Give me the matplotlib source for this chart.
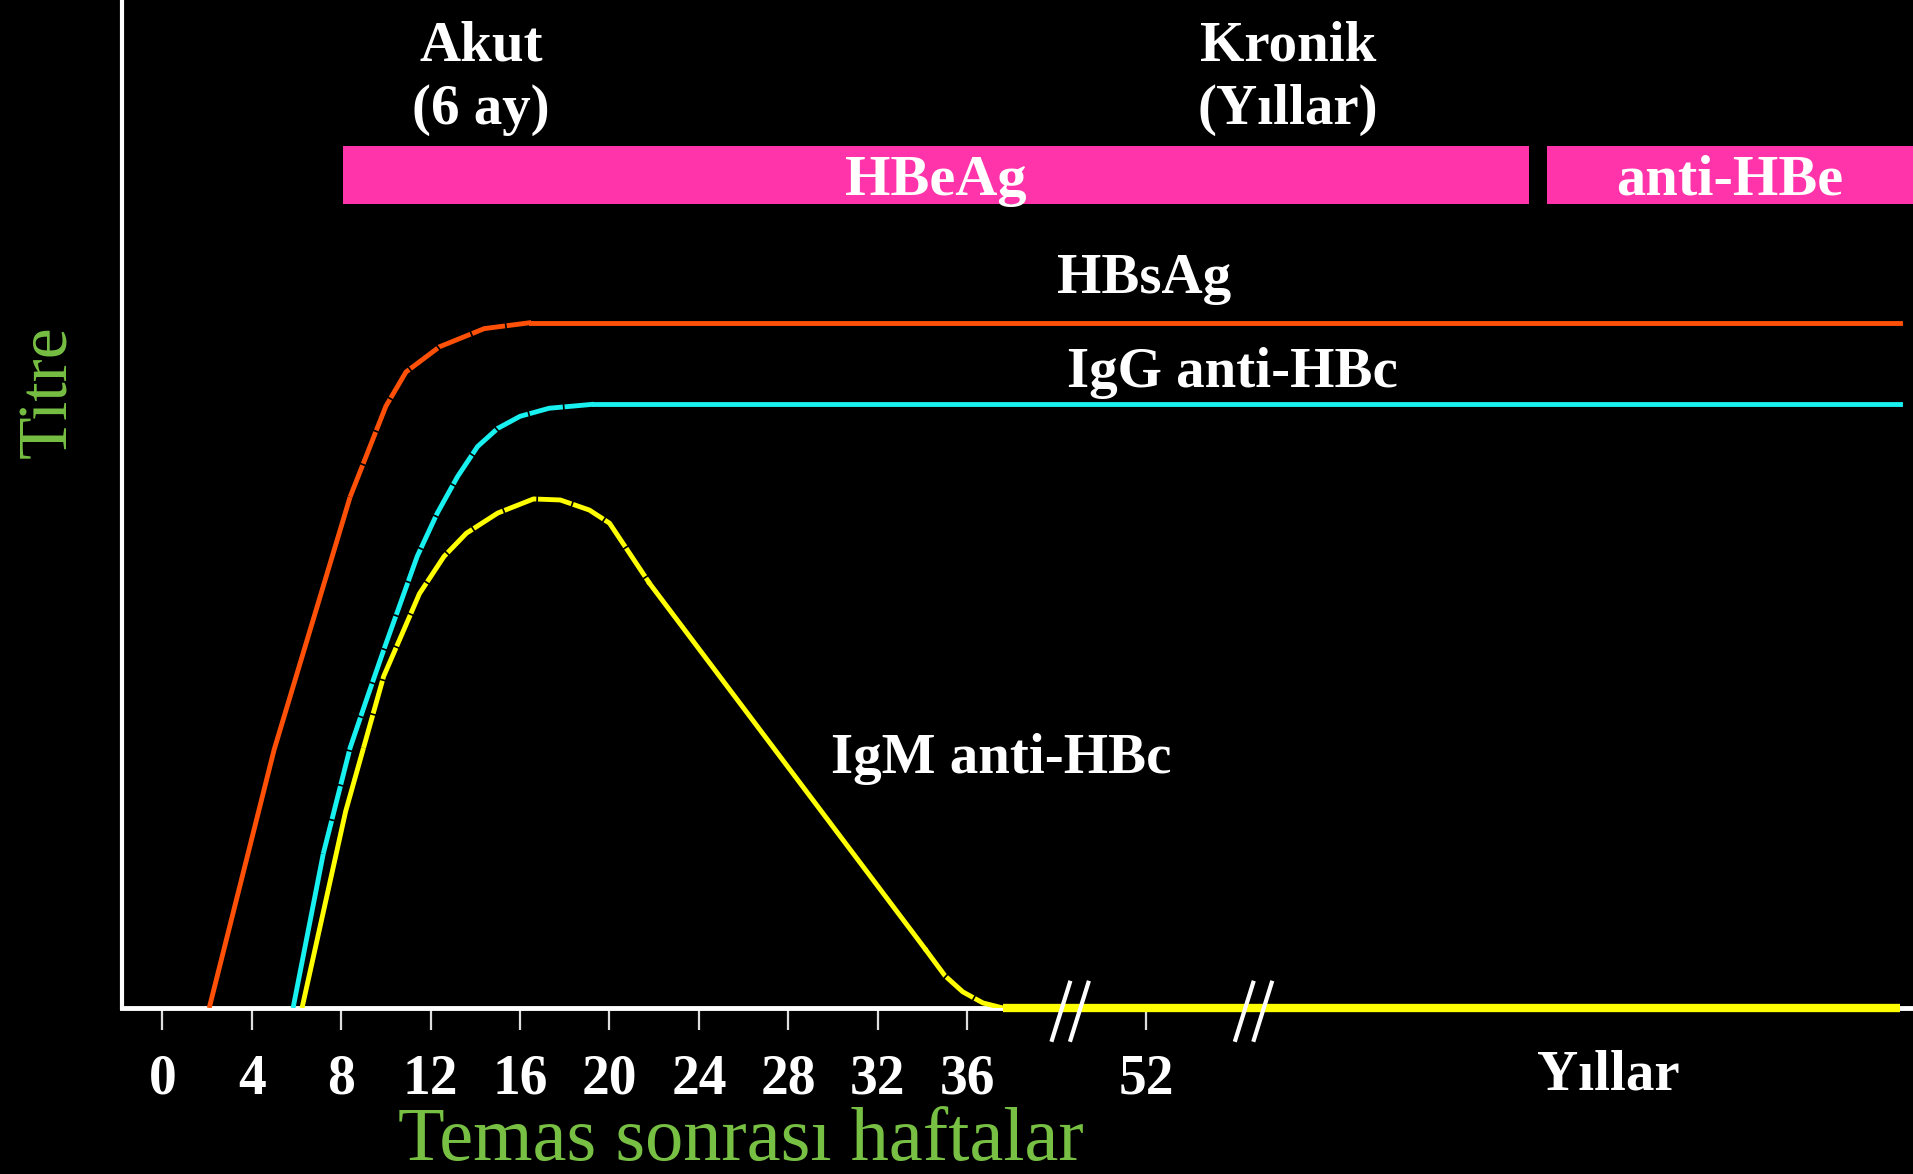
import matplotlib.pyplot as plt

## x axis: weeks after exposure (axis is compressed after 36, broken twice)
week_pos    = [0, 4, 8, 12, 16, 20, 24, 28, 32, 36, 44]
week_labels = ['0', '4', '8', '12', '16', '20', '24', '28', '32', '36', '52']
break_pos   = [40.6, 48.8]
years_pos   = 64.65

## titre curves (relative units, 0 = baseline)
hbsag_x = [2.1, 5.0, 8.4, 10.0, 10.9, 12.4, 14.4, 16.5, 77.7]
hbsag_y = [0, 25.6, 50.7, 59.7, 63.1, 65.6, 67.4, 68.0, 68.0]

igg_x = [5.85, 7.2, 8.4, 9.15, 9.9, 11.4, 12.3, 13.2, 14.1, 15.0, 16.0, 17.3, 19.3, 77.7]
igg_y = [0, 15.3, 25.8, 30.7, 35.5, 44.8, 49.1, 52.7, 55.7, 57.5, 58.7, 59.5, 59.9, 59.9]

igm_x = [6.25, 8.2, 9.0, 9.9, 10.8, 11.5, 12.6, 13.6, 15.0, 16.6, 17.8, 19.1, 20.0, 20.6, 21.8,
         34.1, 35.0, 35.8, 36.7, 37.6, 77.7]
igm_y = [0, 19.5, 25.8, 32.9, 37.5, 41.1, 44.8, 47.1, 49.1, 50.5, 50.4, 49.4, 48.1, 46.1, 42.1,
         5.9, 3.2, 1.6, 0.5, 0, 0]

## serology bars on top
bar_labels = ['HBeAg', 'anti-HBe']
bar_start  = [8.08, 61.92]
bar_end    = [61.1, 80.0]

c_hbs   = '#FF5008'
c_igg   = '#19F0F0'
c_igm   = '#FFFF00'
c_pink  = '#FF33AA'
c_green = '#77C043'
u_font  = 'Liberation Serif'
u_dash  = (0, (7, 0.35))
u_lw    = 3.5

fig = plt.figure(figsize=(19.13, 11.74), dpi=100, facecolor='black')
ax = fig.add_axes([122/1913, 166/1174, 1 - 122/1913, 1008/1174])
ax.set_facecolor('black')
ax.set_xlim(-1.80, 78.29)
ax.set_ylim(0, 100)

for s in ['top', 'right']:
    ax.spines[s].set_visible(False)
ax.spines['left'].set_color('white')
ax.spines['left'].set_linewidth(3)
ax.spines['bottom'].set_color('white')
ax.spines['bottom'].set_linewidth(3.5)

ax.set_yticks([])
ax.set_xticks(week_pos)
ax.set_xticklabels(week_labels, fontfamily=u_font, fontweight='bold', fontsize=40, color='white')
ax.tick_params(axis='x', length=15.8, width=1.6, color='#DDDDDD', pad=17)

## HBsAg : straight rise, rounded shoulder (dashed look), plateau
ax.plot(hbsag_x[:3], hbsag_y[:3], color=c_hbs, lw=u_lw, zorder=3, solid_capstyle='butt')
ax.plot(hbsag_x[2:8], hbsag_y[2:8], color=c_hbs, lw=u_lw, ls=u_dash, zorder=3)
ax.plot(hbsag_x[7:], hbsag_y[7:], color=c_hbs, lw=u_lw, zorder=3)

## IgG anti-HBc
ax.plot(igg_x[:2], igg_y[:2], color=c_igg, lw=u_lw, zorder=3, solid_capstyle='butt')
ax.plot(igg_x[1:13], igg_y[1:13], color=c_igg, lw=u_lw, ls=u_dash, zorder=3)
ax.plot(igg_x[12:], igg_y[12:], color=c_igg, lw=u_lw, zorder=3)

## IgM anti-HBc
ax.plot(igm_x[:3], igm_y[:3], color=c_igm, lw=u_lw, zorder=3, solid_capstyle='butt')
ax.plot(igm_x[2:15], igm_y[2:15], color=c_igm, lw=u_lw, ls=u_dash, zorder=3)
ax.plot(igm_x[14:16], igm_y[14:16], color=c_igm, lw=u_lw, zorder=3)
ax.plot(igm_x[15:20], igm_y[15:20], color=c_igm, lw=u_lw, ls=u_dash, zorder=3)
ax.plot(igm_x[19:], igm_y[19:], color=c_igm, lw=6, zorder=4, clip_on=False, solid_capstyle='butt')

## axis breaks //
for b in break_pos:
    for off in (-0.414, 0.414):
        ax.plot([b + off - 0.425, b + off + 0.425], [-3.35, 2.7], color='white', lw=3,
                zorder=5, clip_on=False, solid_capstyle='butt')

## HBeAg / anti-HBe bars
for lab, x0, x1 in zip(bar_labels, bar_start, bar_end):
    ax.barh(82.65, x1 - x0, left=x0, height=5.75, color=c_pink, zorder=2)
    ax.text((x0 + min(x1, 78.29)) / 2, 80.7, lab, ha='center', va='baseline', color='white',
            fontfamily=u_font, fontweight='bold', fontsize=42, zorder=6)

u_kw = dict(ha='center', va='baseline', color='white', fontfamily=u_font, fontweight='bold', fontsize=41)
ax.text(14.25, 94.0, 'Akut', **u_kw)
ax.text(14.25, 87.7, '(6 ay)', **u_kw)
ax.text(50.35, 94.0, 'Kronik', **u_kw)
ax.text(50.35, 87.7, '(Y\u0131llar)', **u_kw)
ax.text(43.9, 70.9, 'HBsAg', **u_kw)
ax.text(47.85, 61.6, 'IgG anti-HBc', **u_kw)
ax.text(37.5, 23.3, 'IgM anti-HBc', **u_kw)
ax.text(years_pos, -8.13, 'Y\u0131llar', **u_kw)

fig.text(49/1913, 1 - 392/1174, 'Titre', rotation=90, ha='center', va='center',
         color=c_green, fontfamily=u_font, fontsize=50)
fig.text(741/1913, 14/1174, 'Temas sonras\u0131 haftalar', ha='center', va='baseline',
         color=c_green, fontfamily=u_font, fontsize=55)

plt.savefig('out.png', dpi=100, facecolor='black')
